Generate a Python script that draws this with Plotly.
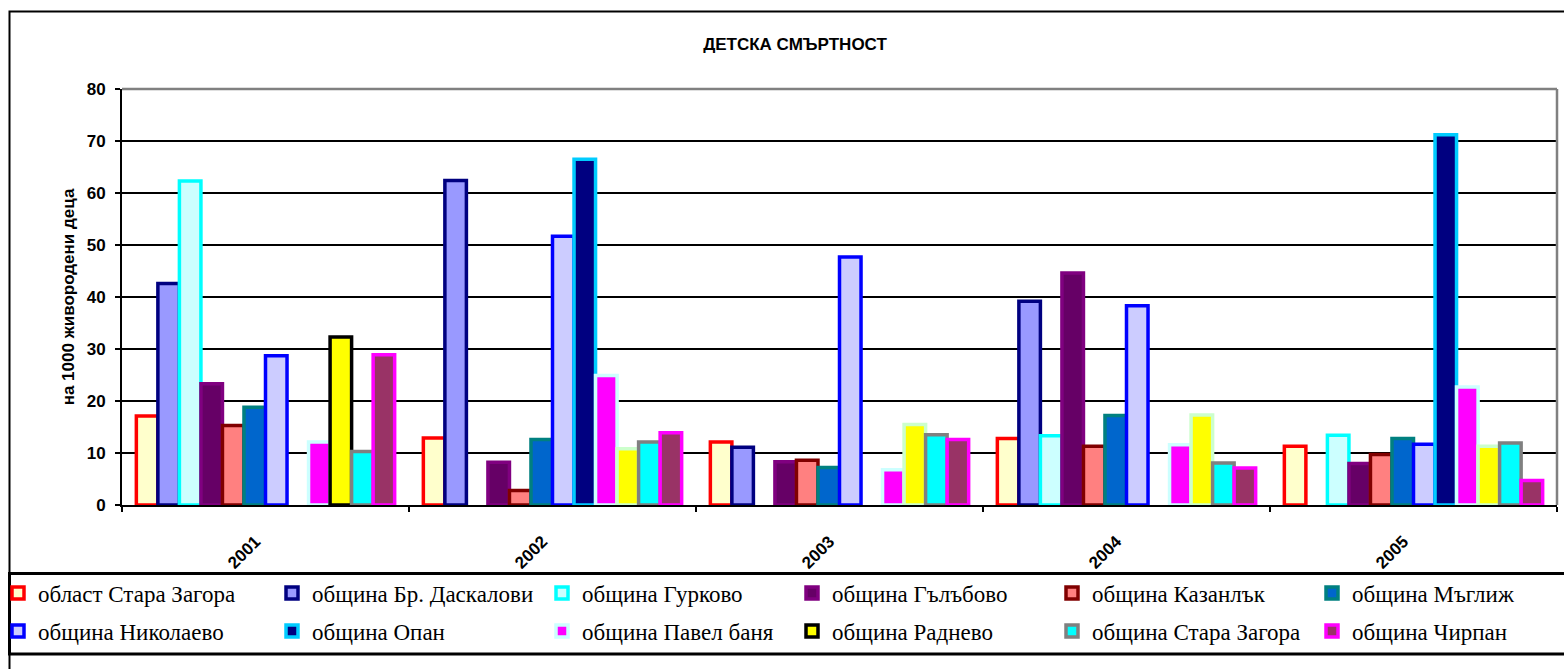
import plotly.graph_objects as go

# Years on the category axis
years = ["2001", "2002", "2003", "2004", "2005"]

# Infant mortality per 1000 live births (None = no value for that year)
oblast_stara_zagora = [17.1, 12.9, 12.1, 12.8, 11.3]
br_daskalovi = [42.6, 62.4, 11.1, 39.2, None]
gurkovo = [62.3, None, None, 13.3, 13.4]
galabovo = [23.3, 8.2, 8.3, 44.6, 8.0]
kazanlak = [15.3, 2.8, 8.6, 11.3, 9.7]
maglizh = [18.8, 12.6, 7.2, 17.2, 12.8]
nikolaevo = [28.7, 51.7, 47.7, 38.3, 11.7]
opan = [None, 66.5, None, None, 71.2]
pavel_banya = [12.1, 24.9, 6.8, 11.6, 22.7]
radnevo = [32.3, 10.8, 15.5, 17.3, 11.3]
obshtina_stara_zagora = [10.3, 12.1, 13.5, 8.1, 11.9]
chirpan = [28.9, 13.9, 12.6, 7.1, 4.7]

series_names = [
    "област Стара Загора", "община Бр. Даскалови", "община Гурково",
    "община Гълъбово", "община Казанлък", "община Мъглиж",
    "община Николаево", "община Опан", "община Павел баня",
    "община Раднево", "община Стара Загора", "община Чирпан",
]
series_values = [
    oblast_stara_zagora, br_daskalovi, gurkovo, galabovo, kazanlak, maglizh,
    nikolaevo, opan, pavel_banya, radnevo, obshtina_stara_zagora, chirpan,
]

fill_colors = [
    "#FFFFCC", "#9999FF", "#CCFFFF", "#660066", "#FF8080", "#0066CC",
    "#CCCCFF", "#000080", "#FF00FF", "#FFFF00", "#00FFFF", "#993366",
]
edge_colors = [
    "#FF0000", "#000080", "#00FFFF", "#800080", "#800000", "#008080",
    "#0000FF", "#00CCFF", "#CCFFFF",
    ["#000000", "#CCFFCC", "#CCFFCC", "#CCFFCC", "#CCFFCC"],
    "#808080", "#FF00FF",
]
# legend column widths (pixels) for each of the six entries per row
legend_widths = [229, 225, 205, 215, 215, 190]

W, H = 1564, 669
L, R, T, B = 122, 7, 89, 164
PW, PH = W - L - R, H - T - B


def px_x(px):
    return (px - L) / PW


def px_y(py):
    return (H - B - py) / PH


fig = go.Figure()
for i, (name, vals) in enumerate(zip(series_names, series_values)):
    fig.add_trace(go.Bar(
        x=years, y=vals, name=name,
        marker=dict(color=fill_colors[i],
                    line=dict(color=edge_colors[i], width=3.5)),
        legend="legend" if i < 6 else "legend2",
        legendwidth=legend_widths[i % 6],
    ))

axis_font = dict(family="Liberation Sans, Arial", size=17, color="black", weight="bold")
legend_font = dict(family="Liberation Serif, Times New Roman", size=23, color="black")

fig.update_layout(
    width=W, height=H,
    margin=dict(l=L, r=R, t=T, b=B, autoexpand=False),
    paper_bgcolor="white", plot_bgcolor="white",
    barmode="group", bargap=0.1, bargroupgap=0,
    title=dict(text="ДЕТСКА СМЪРТНОСТ", font=axis_font,
               x=795 / W, xref="container", xanchor="center",
               y=1 - 44 / H, yref="container", yanchor="middle"),
    xaxis=dict(type="category", showline=True, linecolor="black", linewidth=2,
               ticks="outside", tickson="boundaries", ticklen=5, tickwidth=2,
               tickcolor="black", tickangle=-45, tickfont=axis_font,
               ticklabelstandoff=18, ticklabelshift=-10, showgrid=False),
    yaxis=dict(range=[0, 80], dtick=10, showline=True, linecolor="black",
               linewidth=2, ticks="outside", ticklen=5, tickwidth=2,
               tickcolor="black", tickfont=axis_font, ticklabelstandoff=6,
               showgrid=True, gridcolor="black", gridwidth=1.5, zeroline=False,
               title=dict(text="на 1000 живородени деца", font=axis_font, standoff=8)),
    legend=dict(orientation="h", x=px_x(-2), xanchor="left",
                y=px_y(593), yanchor="middle", font=legend_font,
                bgcolor="rgba(0,0,0,0)", borderwidth=0, entrywidthmode="pixels"),
    legend2=dict(orientation="h", x=px_x(-2), xanchor="left",
                 y=px_y(631), yanchor="middle", font=legend_font,
                 bgcolor="rgba(0,0,0,0)", borderwidth=0, entrywidthmode="pixels"),
    shapes=[
        # chart frame
        dict(type="rect", xref="paper", yref="paper", layer="below",
             x0=px_x(9.5), x1=px_x(1600), y0=px_y(700), y1=px_y(11.5),
             line=dict(color="black", width=2)),
        # legend frame
        dict(type="rect", xref="paper", yref="paper", layer="below",
             x0=px_x(9.5), x1=px_x(1600), y0=px_y(654), y1=px_y(573.5),
             line=dict(color="black", width=3)),
        # plot area border (top and right)
        dict(type="line", xref="paper", yref="paper", x0=0, x1=1, y0=1, y1=1,
             line=dict(color="#808080", width=2.5)),
        dict(type="line", xref="paper", yref="paper", x0=1, x1=1, y0=0, y1=1,
             line=dict(color="#808080", width=2.5)),
    ],
)

fig.write_html("out.html")
